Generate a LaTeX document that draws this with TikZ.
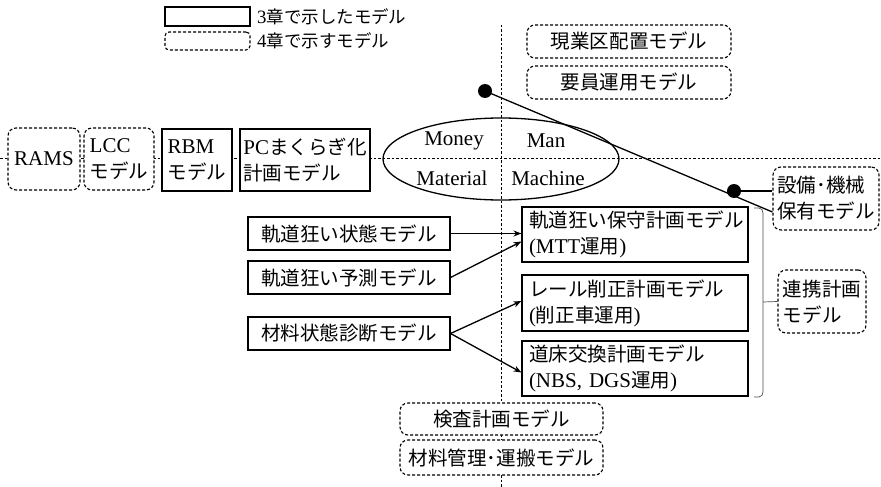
\documentclass[tikz,border=0pt]{standalone}
\usepackage{fontspec}
\setmainfont{Liberation Serif}
\newfontfamily\jp{Noto Sans CJK JP}[Scale=0.93]
\usetikzlibrary{shapes.geometric,arrows.meta}
\begin{document}
\begin{tikzpicture}[x=1pt,y=-1pt,
  font=\fontsize{21}{26}\selectfont,
  solidbox/.style={draw, line width=1.1pt, fill=white, inner sep=0pt, align=left},
  dashbox/.style={draw, line width=1.1pt, dash pattern=on 3pt off 2pt, rounded corners=8pt, fill=white, inner sep=0pt, align=left},
  planbox/.style={solidbox, minimum width=226pt, text width=212pt},
  axisline/.style={line width=0.7pt, dash pattern=on 2.5pt off 2pt},
  conn/.style={line width=1.3pt},
  arr/.style={conn, -{Stealth[length=8pt,width=6pt]}},
  dotnode/.style={circle, fill, inner sep=0pt, minimum size=14pt},
  legendtext/.style={anchor=west, inner sep=0pt, font=\fontsize{18.8}{21}\selectfont},
  plain/.style={inner sep=0pt}
]
\useasboundingbox (0,0) rectangle (881,487);

% dashed axes
\coordinate (hl) at (0,158);
\coordinate (hr) at (881,158);
\coordinate (vt) at (501,25);
\coordinate (vb) at (501,487);
\draw[axisline] (hl) -- (hr);
\draw[axisline] (vt) -- (vb);

% legend
\node[solidbox, minimum width=85pt, minimum height=19pt] (legA) at (207.5,16.5) {};
\node[legendtext] (legAt) at (257,16.5) {3{\jp 章で示したモデル}};
\node[dashbox, rounded corners=4pt, minimum width=85pt, minimum height=18pt] (legB) at (207.5,41) {};
\node[legendtext] (legBt) at (257,41) {4{\jp 章で示すモデル}};

% left row
\node[dashbox, minimum width=72pt, minimum height=62pt] (rams) at (44,159) {RAMS};
\node[dashbox, minimum width=70pt, minimum height=62pt] (lcc) at (119,159) {LCC\\{\jp モデル}};
\node[solidbox, minimum width=70pt, minimum height=62pt] (rbm) at (197,160) {RBM\\{\jp モデル}};
\node[solidbox, minimum width=130pt, minimum height=62pt] (pc) at (305,160) {PC{\jp まくらぎ化}\\{\jp 計画モデル}};

% ellipse of 4M
\node[ellipse, draw, line width=1.3pt, minimum width=236pt, minimum height=82pt] (mm) at (501,159) {};
\node[plain] (money) at (454,141) {Money};
\node[plain] (man) at (546,141) {Man};
\node[plain] (material) at (452,178) {Material};
\node[plain] (machine) at (548,178) {Machine};

% upper right
\node[dashbox, minimum width=204pt, minimum height=33pt] (genba) at (629,41.5) {{\jp 現業区配置モデル}};
\node[dashbox, minimum width=204pt, minimum height=33pt] (youin) at (629,82.5) {{\jp 要員運用モデル}};

\node[dashbox, minimum width=106pt, minimum height=63pt] (setsubi) at (826,198.5) {{\jp 設備･機械}\\{\jp 保有モデル}};
\node[dotnode] (dotA) at (485,91) {};
\node[dotnode] (dotB) at (734,191) {};
\draw[conn] (dotA.center) -- ([yshift=-13.5pt]setsubi.west);
\draw[conn] (dotB.center) -- (setsubi.west |- dotB);

% plan models
\node[planbox, minimum height=55pt] (mtt) at (635,234.5) {{\jp 軌道狂い保守計画モデル}\\(MTT{\jp 運用})};
\node[planbox, minimum height=56pt] (rail) at (635,303) {{\jp レール削正計画モデル}\\({\jp 削正車運用})};
\node[planbox, minimum height=55pt] (doshou) at (635,368.5) {{\jp 道床交換計画モデル}\\(NBS, DGS{\jp 運用})};

\node[dashbox, minimum width=88pt, minimum height=63pt] (renkei) at (822,301.5) {{\jp 連携計画}\\{\jp モデル}};

% bracket
\draw[line width=0.7pt, black!70] (754,208) -- (759,208) to[out=0,in=90] (763,213) -- (763,392) to[out=-90,in=0] (759,397) -- (754,397);
\coordinate (brk) at (763,302);
\draw[line width=0.7pt, black!70] (brk) -- (renkei.west);

% left state models
\node[solidbox, minimum width=202pt, minimum height=33pt] (joutai) at (349,233.5) {{\jp 軌道狂い状態モデル}};
\node[solidbox, minimum width=202pt, minimum height=33pt] (yosoku) at (349,277.5) {{\jp 軌道狂い予測モデル}};
\node[solidbox, minimum width=202pt, minimum height=33pt] (zairyo) at (349,333.5) {{\jp 材料状態診断モデル}};

\draw[arr] (joutai.east) -- (mtt.west |- joutai.east);
\draw[arr] (yosoku.east) -- ([yshift=-7pt]mtt.west);
\draw[arr] (zairyo.east) -- ([yshift=2pt]rail.west);
\draw[arr] (zairyo.east) -- ([yshift=-4pt]doshou.west);

% bottom models
\node[dashbox, minimum width=203pt, minimum height=32pt] (kensa) at (501.5,419) {{\jp 検査計画モデル}};
\node[dashbox, minimum width=203pt, minimum height=35pt] (kanri) at (501.5,457.5) {{\jp 材料管理･運搬モデル}};
\end{tikzpicture}
\end{document}
